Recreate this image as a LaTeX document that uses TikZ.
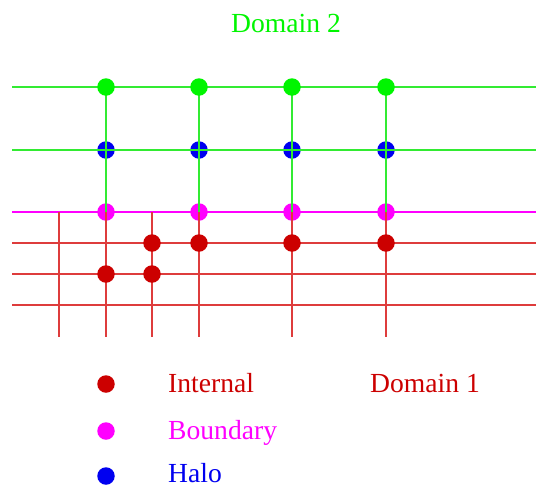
\documentclass[tikz,border=0pt]{standalone}
\usepackage{fontspec}
\setmainfont{Liberation Serif}
\definecolor{dred}{RGB}{204,0,0}
\definecolor{lred}{RGB}{222,60,60}
\definecolor{gline}{RGB}{50,235,50}
\definecolor{gdot}{RGB}{0,245,0}
\definecolor{mag}{RGB}{255,0,255}
\definecolor{hblue}{RGB}{0,0,240}
\begin{document}
\begin{tikzpicture}[x=1pt,y=-1pt,
  dot/.style={circle,inner sep=0pt,minimum size=17.5pt,fill=#1},
  gl/.style={draw=gline,line width=1.1pt},
  rl/.style={draw=lred,line width=1.1pt},
  ml/.style={draw=mag,line width=1.1pt},
  lbl/.style={anchor=base west,inner sep=0pt,font=\fontsize{27.6}{31}\selectfont}]
\useasboundingbox (0,0) rectangle (536,488);
% coordinates of line ends
\foreach \y/\n in {87/g1,150/g2,212/m,243/r1,274/r2,305/r3}{
  \coordinate (L\n) at (12,\y);
  \coordinate (R\n) at (536,\y);
}
\foreach \x/\n in {59/a,106/b,152/c,199/d,292/e,386/f}{
  \coordinate (T\n) at (\x,212);
  \coordinate (B\n) at (\x,337);
}
\foreach \x/\n in {106/b,199/d,292/e,386/f}{
  \coordinate (G\n) at (\x,87);
}
% halo and boundary dots (under lines)
\foreach \x/\n in {106/b,199/d,292/e,386/f}{
  \node[dot=hblue] (h\n) at (\x,150) {};
  \node[dot=mag] (m\n) at (\x,212) {};
}
% horizontal lines
\draw[gl] (Lg1) -- (Rg1);
\draw[gl] (Lg2) -- (Rg2);
\draw[ml] (Lm) -- (Rm);
\draw[rl] (Lr1) -- (Rr1);
\draw[rl] (Lr2) -- (Rr2);
\draw[rl] (Lr3) -- (Rr3);
% vertical lines
\foreach \n in {b,d,e,f}{
  \draw[gl] (G\n) -- (T\n);
}
\foreach \n in {a,b,c,d,e,f}{
  \draw[rl] (T\n) -- (B\n);
}
% top green dots
\foreach \x/\n in {106/b,199/d,292/e,386/f}{
  \node[dot=gdot] (g\n) at (\x,87) {};
}
% internal dots
\node[dot=dred] (i1) at (152,243) {};
\node[dot=dred] (i2) at (199,243) {};
\node[dot=dred] (i3) at (292,243) {};
\node[dot=dred] (i4) at (386,243) {};
\node[dot=dred] (i5) at (106,274) {};
\node[dot=dred] (i6) at (152,274) {};
% titles
\node[lbl,text=gdot] (d2) at (231,32) {Domain 2};
\node[lbl,text=dred] (d1) at (370,392) {Domain 1};
% legend
\node[dot=dred] (k1) at (106,384) {};
\node[dot=mag] (k2) at (106,431) {};
\node[dot=hblue] (k3) at (106,476) {};
\node[lbl,text=dred] (t1) at (168,392) {Internal};
\node[lbl,text=mag] (t2) at (168,439) {Boundary};
\node[lbl,text=hblue,text depth=0pt] (t3) at (168,482) {Halo};
\end{tikzpicture}
\end{document}
